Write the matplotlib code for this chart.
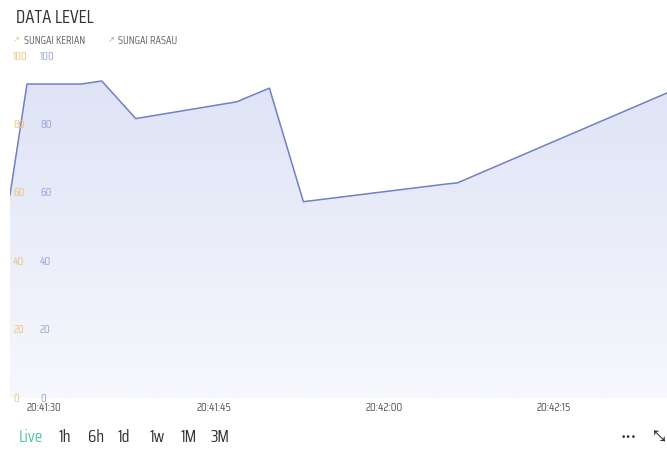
import datetime as dt
import matplotlib
matplotlib.use("Agg")
import matplotlib.pyplot as plt
import matplotlib.dates as mdates
import matplotlib.transforms as mtransforms
import numpy as np

plt.rcParams['font.family'] = ['Saira Condensed', 'DejaVu Sans']

# data (seconds after 20:41:00, level)
secs = [27.0, 28.5, 33.3, 35.1, 38.1, 47.0, 49.9, 52.9, 65.6, 66.5, 85.0]
levels = [59.4, 91.8, 91.8, 92.7, 81.7, 86.6, 90.6, 57.4, 62.6, 62.9, 89.2]
yticks = [0, 20, 40, 60, 80, 100]
xticks_s = [30, 45, 60, 75]
ranges = ["Live", "1h", "6h", "1d", "1w", "1M", "3M"]
series = ["SUNGAI KERIAN", "SUNGAI RASAU"]

base = dt.datetime(2024, 1, 1, 20, 41, 0)
times = [base + dt.timedelta(seconds=s) for s in secs]
tick_times = [base + dt.timedelta(seconds=s) for s in xticks_s]

orange = "#f2c27a"
blue = "#97a6d8"
line_c = "#6f80c6"

fig = plt.figure(figsize=(6.67, 4.5), dpi=100)
W, H = 667, 450
ax = fig.add_axes([10 / W, 1 - 398 / H, 657 / W, 342 / H])
ax.set_xlim(times[0], times[-1])
ax.set_ylim(0, 100)

# gradient fill under the line
poly = ax.fill_between(times, levels, 0, color="none")
grad = np.linspace(1, 0, 256).reshape(-1, 1)
cmap = matplotlib.colors.LinearSegmentedColormap.from_list("g", ["#f7f8fd", "#dce2f6"])
x0, x1 = ax.get_xlim()
img = ax.imshow(grad, cmap=cmap, aspect="auto", extent=[x0, x1, 0, 100],
                origin="upper", zorder=1)
img.set_clip_path(poly.get_paths()[0], transform=ax.transData)
ax.plot(times, levels, color=line_c, lw=1.1, zorder=3)
ax.set_xlim(x0, x1)
ax.set_ylim(0, 100)

for s in ax.spines.values():
    s.set_visible(False)
ax.set_yticks([])
ax.xaxis.set_major_locator(matplotlib.ticker.FixedLocator(mdates.date2num(tick_times)))
ax.xaxis.set_major_formatter(mdates.DateFormatter("%H:%M:%S"))
ax.tick_params(axis="x", length=0, labelsize=8.5, colors="#555555", pad=3)

# y labels drawn inside the plot for both series
trans = mtransforms.blended_transform_factory(fig.transFigure, ax.transData)
for v in yticks:
    ax.text(13 / W, v, str(v), transform=trans, color=orange, fontsize=8.5,
            va="center", ha="left", zorder=4)
    ax.text(40 / W, v, str(v), transform=trans, color=blue, fontsize=8.5,
            va="center", ha="left", zorder=4)

fig.text(16 / W, 1 - 18 / H, "DATA LEVEL", fontsize=13.5, color="#333333", va="center")
fig.text(13 / W, 1 - 40 / H, "\u2197", color=orange, fontsize=6, va="center",
         family="DejaVu Sans")
fig.text(24 / W, 1 - 40 / H, series[0], color="#666666", fontsize=8, va="center")
fig.text(108 / W, 1 - 40 / H, "\u2197", color=blue, fontsize=6, va="center",
         family="DejaVu Sans")
fig.text(118 / W, 1 - 40 / H, series[1], color="#666666", fontsize=8, va="center")

xs = [19, 59, 88, 118, 150, 181, 210]
for x, r in zip(xs, ranges):
    fig.text(x / W, 1 - 437 / H, r, fontsize=12.5, va="center",
             color="#55c7a5" if r == "Live" else "#333333")
fig.text(621 / W, 1 - 437 / H, "\u2022\u2022\u2022", fontsize=6.5, va="center",
         color="#333333", family="DejaVu Sans")
fig.text(652 / W, 1 - 437 / H, "\u2921", fontsize=11, va="center", color="#333333",
         family=["Noto Sans Math", "Noto Sans Symbols 2", "Noto Sans Symbols", "DejaVu Sans"])

fig.savefig("out.png", dpi=100)
